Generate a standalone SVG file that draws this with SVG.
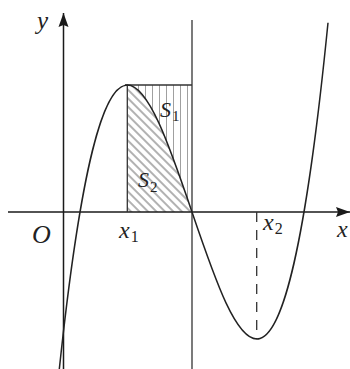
<svg xmlns="http://www.w3.org/2000/svg" width="350" height="369" viewBox="0 0 350 369">
  <defs>
    <marker id="arrow" markerUnits="userSpaceOnUse" markerWidth="16" markerHeight="12" refX="14" refY="6" orient="auto" overflow="visible">
      <path d="M0,1 L14,6 L0,11 L2,6 Z" fill="#1a1a1a"/>
    </marker>
    <pattern id="diag" patternUnits="userSpaceOnUse" width="6" height="6" patternTransform="rotate(-45)">
      <line x1="3" y1="0" x2="3" y2="6" stroke="#555" stroke-width="0.9"/>
    </pattern>
    <pattern id="vert" patternUnits="userSpaceOnUse" width="7" height="7" x="128">
      <line x1="3.5" y1="0" x2="3.5" y2="7" stroke="#888" stroke-width="0.8"/>
    </pattern>
  </defs>
  <style>
    .ax { stroke: #1a1a1a; stroke-width: 1.5; fill: none; }
    .cv { stroke: #222; stroke-width: 1.5; fill: none; }
    .ln { stroke: #333; stroke-width: 1.3; fill: none; }
    .lbl { font-family: "Liberation Serif", "DejaVu Serif", serif; font-style: italic; fill: #222; }
    .sub { font-style: normal; }
  </style>
  <rect width="350" height="369" fill="#ffffff"/>

  <g id="regions">
    <path id="S1-region" d="M127.3,85 C148.87,85 170.43,148.5 192,212 L192,85 Z" fill="url(#vert)"/>
    <path id="S2-region" d="M127.3,85 C148.87,85 170.43,148.5 192,212 L127.3,212 Z" fill="url(#diag)"/>
  </g>

  <g id="axes">
    <line class="ax" x1="8" y1="212" x2="350" y2="212" marker-end="url(#arrow)"/>
    <line class="ax" x1="63.5" y1="369" x2="63.5" y2="13" marker-end="url(#arrow)"/>
  </g>

  <g id="lines">
    <line class="ln" x1="192" y1="20" x2="192" y2="369"/>
    <line class="ln" x1="127.3" y1="85" x2="127.3" y2="212"/>
    <line class="ln" x1="125" y1="85" x2="192" y2="85"/>
    <line class="ln" x1="256.7" y1="212" x2="256.7" y2="339" stroke-dasharray="10 8"/>
  </g>

  <g id="curve">
    <path class="cv" d="M59.3,369.2 C148.87,-476.4 238.4,924 328,22.7"/>
  </g>

  <g id="labels">
    <text class="lbl" x="37" y="29" font-size="25">y</text>
    <text class="lbl" x="32" y="243" font-size="26">O</text>
    <text class="lbl" x="119" y="238" font-size="24">x<tspan class="sub" font-size="16" dx="1" dy="4">1</tspan></text>
    <text class="lbl" x="263" y="230" font-size="24">x<tspan class="sub" font-size="16" dx="1" dy="4">2</tspan></text>
    <text class="lbl" x="337" y="237" font-size="24">x</text>
    <text class="lbl" x="160" y="117" font-size="22">S<tspan class="sub" font-size="15" dx="1" dy="4">1</tspan></text>
    <text class="lbl" x="138" y="187" font-size="22">S<tspan class="sub" font-size="15" dx="1" dy="5">2</tspan></text>
  </g>
</svg>
